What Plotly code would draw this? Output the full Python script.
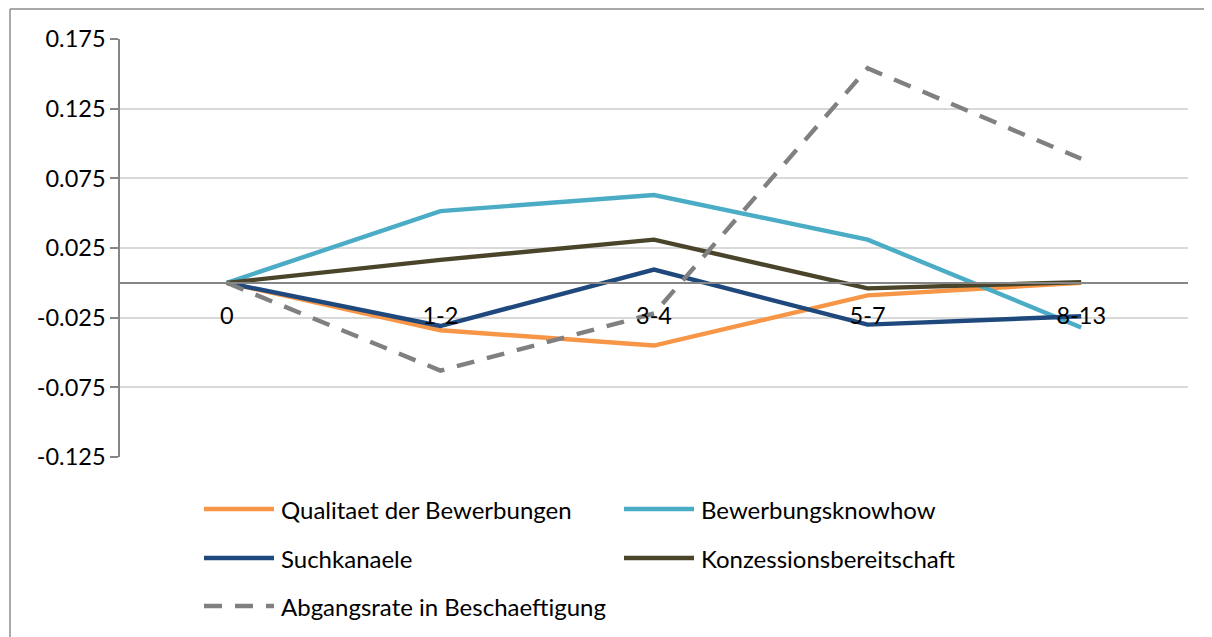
import plotly.graph_objects as go

categories = ["0", "1-2", "3-4", "5-7", "8-13"]
qualitaet = [0.0, -0.034, -0.045, -0.009, 0.0]
knowhow = [0.0, 0.0515, 0.063, 0.031, -0.032]
suchkanaele = [0.0, -0.031, 0.0095, -0.030, -0.024]
konzession = [0.0, 0.0165, 0.031, -0.004, 0.0005]
abgang = [0.0, -0.063, -0.022, 0.154, 0.089]
y_ticks = [-0.125, -0.075, -0.025, 0.025, 0.075, 0.125, 0.175]

series = [
    ("Qualitaet der Bewerbungen", qualitaet, "#F79646", "solid"),
    ("Bewerbungsknowhow", knowhow, "#4BACC6", "solid"),
    ("Suchkanaele", suchkanaele, "#1F497D", "solid"),
    ("Konzessionsbereitschaft", konzession, "#4A452A", "solid"),
    ("Abgangsrate in Beschaeftigung", abgang, "#808080", "18px,13px"),
]

FONT = "Lato"
OFF = 8  # page body margin offset
W, H = 1212 - OFF, 637 - OFF
L, T = 120 - OFF, 39 - OFF
R = W - (1188 - OFF)
B = H - (457 - OFF)
pw, ph = W - L - R, H - T - B

def px(x):
    # x in screenshot pixels
    return (x - OFF - L) / pw

def py(y):
    return (H - B - (y - OFF)) / ph

fig = go.Figure()
for name, vals, color, dash in series:
    fig.add_trace(go.Scatter(
        x=categories, y=vals, name=name, mode="lines",
        line=dict(color=color, width=4.4, dash=dash),
        showlegend=False,
    ))

shapes = []
annotations = []
# outer frame (top and left edges visible)
frame = dict(color="#8C8C8C", width=1.5)
shapes.append(dict(type="line", xref="paper", yref="paper",
                   x0=px(10), x1=px(1240), y0=py(9), y1=py(9), line=frame, layer="below"))
shapes.append(dict(type="line", xref="paper", yref="paper",
                   x0=px(10), x1=px(10), y0=py(9), y1=py(700), line=frame, layer="below"))

legend_pos = [(204, 509), (624, 509), (204, 558), (624, 558), (204, 606)]
for (name, vals, color, dash), (lx, ly) in zip(series, legend_pos):
    shapes.append(dict(type="line", xref="paper", yref="paper",
                       x0=px(lx), x1=px(lx + 70), y0=py(ly), y1=py(ly),
                       line=dict(color=color, width=4.4, dash=dash)))
    annotations.append(dict(xref="paper", yref="paper", x=px(lx + 75), y=py(ly),
                            xanchor="left", yanchor="middle", showarrow=False,
                            text=name, font=dict(family=FONT, size=24, color="#000000")))

zero_pos = (0 - (-0.125)) / 0.3

fig.update_layout(
    width=W, height=H,
    margin=dict(l=L, r=R, t=T, b=B, pad=0),
    paper_bgcolor="white", plot_bgcolor="white",
    font=dict(family=FONT, size=24, color="#000000"),
    shapes=shapes, annotations=annotations,
    xaxis=dict(
        type="category", range=[-0.5, 4.5],
        anchor="free", position=zero_pos,
        showgrid=False, zeroline=False,
        showline=True, linecolor="#868686", linewidth=1.5,
        ticks="outside", ticklen=12, tickcolor="rgba(0,0,0,0)",
        tickfont=dict(family=FONT, size=23.5, color="#000000"),
    ),
    yaxis=dict(
        range=[-0.125, 0.175], tickvals=y_ticks,
        ticktext=[f"{v:.3f}" for v in y_ticks],
        showgrid=True, gridcolor="#D9D9D9", gridwidth=1.5,
        zeroline=False,
        showline=True, linecolor="#868686", linewidth=1.5,
        ticks="outside", ticklen=8, tickcolor="#868686", tickwidth=1.5,
        tickfont=dict(family=FONT, size=23.5, color="#000000"),
    ),
)

fig.write_html("out.html",
               post_script="document.documentElement.style.overflow='hidden';document.body.style.overflow='hidden';")
